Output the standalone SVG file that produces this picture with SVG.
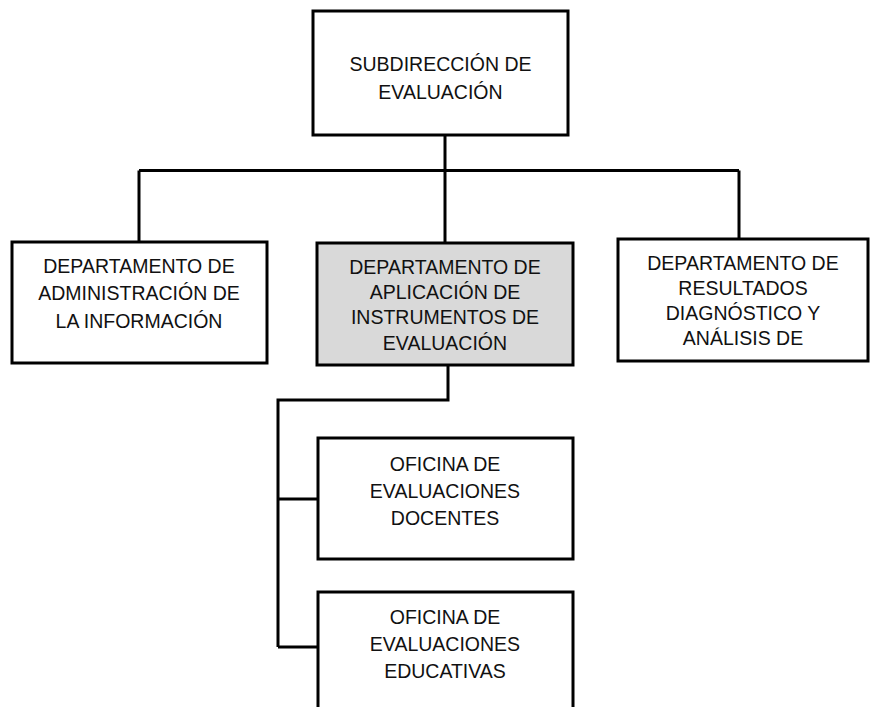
<svg xmlns="http://www.w3.org/2000/svg" width="870" height="707" viewBox="0 0 870 707">
<style>
.box{fill:#ffffff;stroke:#000000;stroke-width:3}
.hl{fill:#d9d9d9}
.lbl{font-family:"Liberation Sans",Arial,sans-serif;font-size:19.5px;fill:#111111;text-anchor:middle}
.con{fill:none;stroke:#000000;stroke-width:3}
</style>
<rect width="870" height="707" fill="#ffffff"/>
<g id="connectors">
<path class="con" d="M445,135 V243"/>
<path class="con" d="M139,170.5 H739"/>
<path class="con" d="M139,170.5 V242"/>
<path class="con" d="M739,170.5 V239"/>
<path class="con" d="M448,365 V400 H278 V647"/>
<path class="con" d="M278,499 H318"/>
<path class="con" d="M278,647 H318"/>
</g>
<g id="subdireccion">
<rect class="box" x="313" y="11" width="255" height="124"/>
<text class="lbl" x="440.5" y="71">SUBDIRECCIÓN DE</text>
<text class="lbl" x="440.5" y="99">EVALUACIÓN</text>
</g>
<g id="dep-administracion">
<rect class="box" x="12" y="242" width="255" height="121"/>
<text class="lbl" x="139" y="273">DEPARTAMENTO DE</text>
<text class="lbl" x="139" y="300">ADMINISTRACIÓN DE</text>
<text class="lbl" x="139" y="327.5">LA INFORMACIÓN</text>
</g>
<g id="dep-aplicacion">
<rect class="box hl" x="317" y="243" width="256" height="122"/>
<text class="lbl" x="445" y="274">DEPARTAMENTO DE</text>
<text class="lbl" x="445" y="299">APLICACIÓN DE</text>
<text class="lbl" x="445" y="324">INSTRUMENTOS DE</text>
<text class="lbl" x="445" y="349.5">EVALUACIÓN</text>
</g>
<g id="dep-resultados">
<rect class="box" x="618" y="239" width="250" height="122"/>
<text class="lbl" x="743" y="269.5">DEPARTAMENTO DE</text>
<text class="lbl" x="743" y="294.5">RESULTADOS</text>
<text class="lbl" x="743" y="319.5">DIAGNÓSTICO Y</text>
<text class="lbl" x="743" y="345">ANÁLISIS DE</text>
</g>
<g id="of-docentes">
<rect class="box" x="318" y="438" width="255" height="121"/>
<text class="lbl" x="445" y="470.5">OFICINA DE</text>
<text class="lbl" x="445" y="497.5">EVALUACIONES</text>
<text class="lbl" x="445" y="525">DOCENTES</text>
</g>
<g id="of-educativas">
<rect class="box" x="318" y="592" width="255" height="130"/>
<text class="lbl" x="445" y="624">OFICINA DE</text>
<text class="lbl" x="445" y="651">EVALUACIONES</text>
<text class="lbl" x="445" y="678">EDUCATIVAS</text>
</g>
</svg>
